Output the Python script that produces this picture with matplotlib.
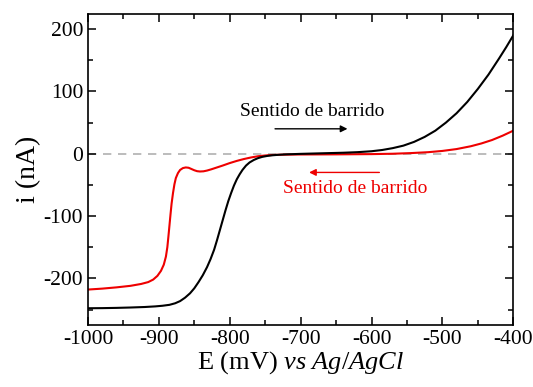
import matplotlib.pyplot as plt
from matplotlib.ticker import MultipleLocator

plt.rcParams['font.family'] = ['Liberation Serif', 'DejaVu Serif']
plt.rcParams['mathtext.fontset'] = 'custom'
plt.rcParams['mathtext.it'] = 'Liberation Serif:italic'
plt.rcParams['mathtext.rm'] = 'Liberation Serif'
plt.rcParams['axes.unicode_minus'] = False

# forward scan (black)
e_fwd = [-1000, -980, -960, -940, -920, -905, -895, -885, -877, -870, -863,
         -856, -850, -844, -838, -832, -827, -822, -818, -814, -810, -806,
         -802, -798, -794, -790, -786, -782, -777, -772, -766, -760, -754,
         -747, -740, -730, -720, -710, -700, -680, -660, -640, -620, -600,
         -585, -570, -555, -540, -525, -510, -495, -480, -465, -450, -435,
         -420, -410, -400]
i_fwd = [-248, -247.8, -247.4, -246.8, -246, -245, -244, -242.5, -240, -236.5, -231,
         -224, -216, -206, -195, -182, -169, -154, -139, -123, -107, -91,
         -76, -63, -51, -41, -33, -26, -19, -14, -10, -7, -5,
         -3.5, -2.5, -1.6, -1, -0.6, -0.2, 0.4, 1, 1.6, 2.5, 4,
         6, 9, 13, 19, 27, 37, 50, 65, 83, 104, 127,
         153, 171, 190]

# reverse scan (red)
e_rev = [-1000, -980, -960, -940, -925, -915, -908, -902, -897, -893, -890,
         -888, -886.5, -885, -883.5, -882, -880, -878, -876, -873, -870, -866,
         -862, -858, -854, -850, -846, -842, -837, -832, -826, -818, -810,
         -800, -790, -780, -770, -760, -750, -740, -725, -700, -650, -600,
         -570, -545, -520, -500, -480, -460, -445, -430, -415, -400]
i_rev = [-218, -216.5, -214.5, -212, -209, -206, -202, -196, -188, -178, -165,
         -150, -133, -115, -97, -80, -63, -49, -39, -31, -26, -23,
         -22, -22.5, -24.5, -26.5, -28, -28.5, -28.2, -27, -25, -22, -19,
         -15, -11.5, -8.5, -6, -4, -2.8, -2, -1.5, -1.2, -1, -0.6,
         0, 1, 2.5, 4.5, 7.5, 12, 16.5, 22, 29, 37]

fig = plt.figure(figsize=(5.33, 3.87), dpi=100)
ax = fig.add_axes([0.165, 0.16, 0.798, 0.805])

ax.axhline(0, color='#b0b0b0', lw=1.2, ls=(0, (5, 4)), zorder=1)
ax.plot(e_fwd, i_fwd, color='black', lw=1.5, zorder=3)
ax.plot(e_rev, i_rev, color='#ee0000', lw=1.5, zorder=2)

ax.text(-683, 68, 'Sentido de barrido', ha='center', va='center', fontsize=14)
ax.annotate('', xy=(-630, 40), xytext=(-740, 40),
            arrowprops=dict(arrowstyle='-|>', color='black', lw=1.0,
                            mutation_scale=10))
ax.text(-623, -55, 'Sentido de barrido', ha='center', va='center',
        fontsize=14, color='#ee0000')
ax.annotate('', xy=(-692, -30), xytext=(-585, -30),
            arrowprops=dict(arrowstyle='-|>', color='#ee0000', lw=1.0,
                            mutation_scale=10))

ax.set_xlim(-1000, -400)
ax.set_ylim(-275, 225)
ax.xaxis.set_major_locator(MultipleLocator(100))
ax.xaxis.set_minor_locator(MultipleLocator(50))
ax.yaxis.set_major_locator(MultipleLocator(100))
ax.yaxis.set_minor_locator(MultipleLocator(50))
ax.tick_params(which='both', direction='in', top=True, right=True,
               labelsize=15.5, width=1.1)
ax.tick_params(which='major', length=6)
ax.tick_params(which='minor', length=3.5)
for s in ax.spines.values():
    s.set_linewidth(1.2)

ax.set_xlabel(r'E (mV) $\mathit{vs\ Ag/AgCl}$', fontsize=19, labelpad=0)
ax.set_ylabel('i (nA)', fontsize=20, labelpad=2)

fig.savefig('out.png', dpi=100)
